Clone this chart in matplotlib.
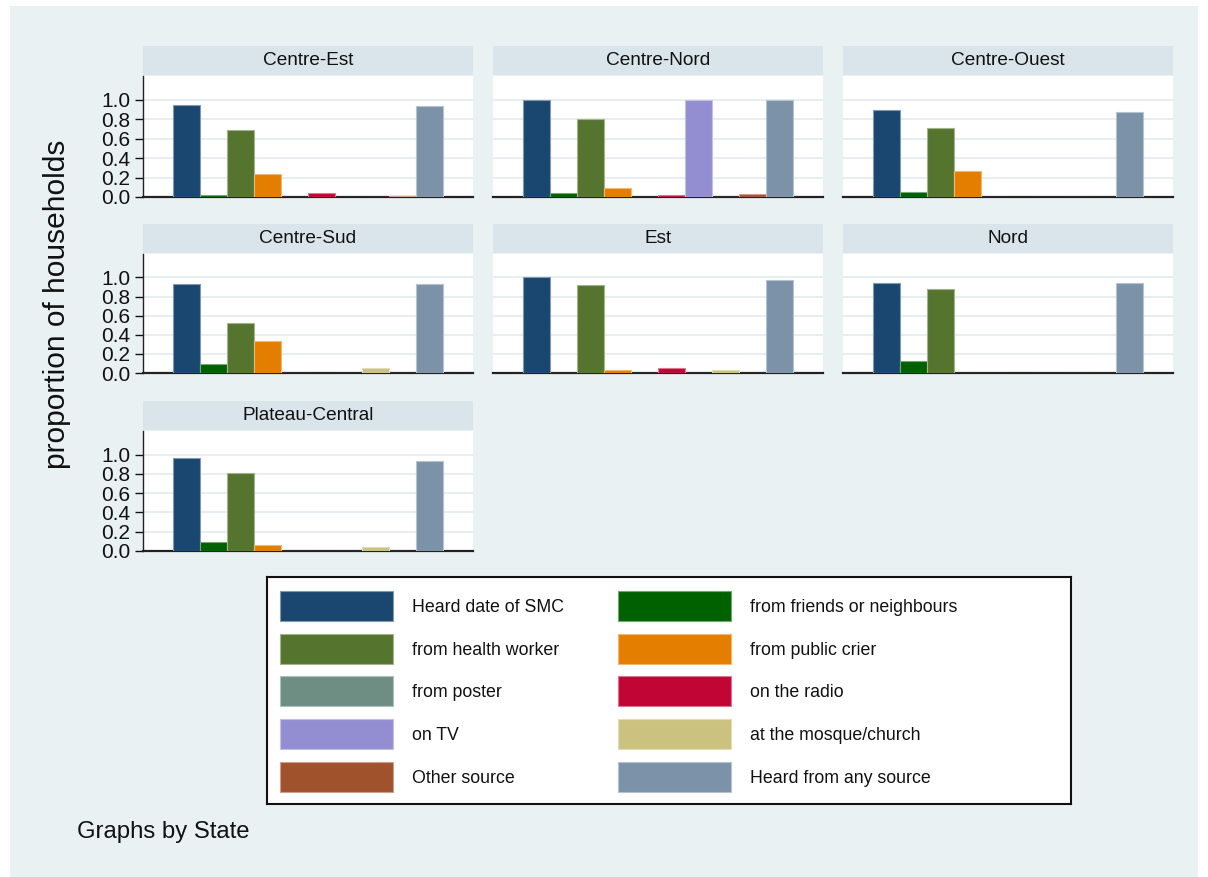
import numpy as np
import matplotlib
matplotlib.use("Agg")
import matplotlib.pyplot as plt
from matplotlib.patches import Rectangle
from matplotlib.colors import to_rgb

plt.rcParams['font.family'] = ['Liberation Sans', 'DejaVu Sans']

# series labels and colours (Stata s2color order)
sources = ['Heard date of SMC', 'from friends or neighbours', 'from health worker',
           'from public crier', 'from poster', 'on the radio', 'on TV',
           'at the mosque/church', 'Other source', 'Heard from any source']
colors = ['#1A476F', '#006100', '#55752F', '#E37E00', '#6E8E84',
          '#C10534', '#938DD2', '#CAC27E', '#A0522D', '#7B92A8']

states = ['Centre-Est', 'Centre-Nord', 'Centre-Ouest', 'Centre-Sud',
          'Est', 'Nord', 'Plateau-Central']

# proportion of households per source, one list per state
centre_est = [0.948, 0.020, 0.694, 0.236, 0.0, 0.042, 0.0, 0.0, 0.014, 0.934]
centre_nord = [1.0, 0.042, 0.800, 0.097, 0.0, 0.017, 1.0, 0.0, 0.031, 1.0]
centre_ouest = [0.892, 0.052, 0.705, 0.264, 0.0, 0.0, 0.0, 0.0, 0.0, 0.878]
centre_sud = [0.927, 0.098, 0.521, 0.336, 0.0, 0.0, 0.0, 0.056, 0.0, 0.927]
est = [1.0, 0.0, 0.916, 0.028, 0.0, 0.049, 0.0, 0.028, 0.0, 0.969]
nord = [0.944, 0.122, 0.878, 0.0, 0.0, 0.0, 0.0, 0.0, 0.0, 0.944]
plateau_central = [0.962, 0.098, 0.808, 0.059, 0.0, 0.0, 0.0, 0.045, 0.0, 0.930]

values = [centre_est, centre_nord, centre_ouest, centre_sud, est, nord, plateau_central]
yticks = [0.0, 0.2, 0.4, 0.6, 0.8, 1.0]

W, H = 1208, 877
BG = '#EAF1F3'
HEAD = '#D9E5EA'
GRID = '#E4EDF0'


def box(x0, y0, x1, y1):
    return [x0 / W, 1 - y1 / H, (x1 - x0) / W, (y1 - y0) / H]


def lighter(c, f=0.45):
    r, g, b = to_rgb(c)
    return (r + (1 - r) * f, g + (1 - g) * f, b + (1 - b) * f)


fig = plt.figure(figsize=(W / 100, H / 100), dpi=100, facecolor='white')
fig.patches.append(Rectangle((10 / W, 0), 1188 / W, 1 - 6 / H, transform=fig.transFigure,
                             facecolor=BG, edgecolor='none', zorder=-10))

cols_x = [(143, 473), (493, 823), (843, 1173)]
rows_y = [(46, 75, 76, 197), (224, 253, 254, 373), (401, 430, 431, 551)]

x = np.arange(len(sources))
for k, state in enumerate(states):
    r, c = divmod(k, 3)
    x0, x1 = cols_x[c]
    h0, h1, p0, p1 = rows_y[r]

    # header strip
    hax = fig.add_axes(box(x0, h0, x1, h1))
    hax.set_facecolor(HEAD)
    hax.set_xticks([]); hax.set_yticks([])
    for s in hax.spines.values():
        s.set_visible(False)
    hax.text(0.5, 0.5, state, ha='center', va='center', fontsize=13.7, color='#111111',
             transform=hax.transAxes)

    ax = fig.add_axes(box(x0, p0, x1, p1))
    ax.set_facecolor('white')
    ax.bar(x, values[k], width=1.0, color=colors,
           edgecolor=[lighter(cc) for cc in colors], linewidth=0.8, zorder=3)
    ax.set_xlim(-1.61, 10.61)
    ax.set_ylim(0, 1.245)
    ax.set_yticks(yticks)
    for yv in yticks[1:]:
        ax.axhline(yv, color=GRID, lw=1.3, zorder=1)
    ax.set_xticks([])
    ax.spines['top'].set_visible(False)
    ax.spines['right'].set_visible(False)
    ax.spines['bottom'].set_linewidth(1.6)
    ax.spines['bottom'].set_color('#222222')
    if c == 0:
        ax.spines['left'].set_linewidth(1.0)
        ax.spines['left'].set_color('#222222')
        ax.set_yticklabels(['%.1f' % v for v in yticks], fontsize=15)
        ax.tick_params(axis='y', length=6, width=1, pad=3, colors='#111111')
    else:
        ax.spines['left'].set_visible(False)
        ax.tick_params(axis='y', length=0, labelleft=False)

fig.text(57 / W, 1 - 304 / H, 'proportion of households', rotation=90,
         ha='center', va='center', fontsize=21.5, color='#111111')

# legend box
lax = fig.add_axes(box(267, 577, 1071, 804))
lax.set_facecolor('white')
lax.set_xlim(0, 804)
lax.set_ylim(227, 0)
lax.set_xticks([]); lax.set_yticks([])
for s in lax.spines.values():
    s.set_linewidth(1.5)
    s.set_color('#111111')
row_c = [29, 72, 114, 157, 200]
for i, (lab, col) in enumerate(zip(sources, colors)):
    rr, cc = divmod(i, 2)
    sx = 13 if cc == 0 else 351
    lax.add_patch(Rectangle((sx, row_c[rr] - 15), 113, 30, facecolor=col,
                            edgecolor=lighter(col), linewidth=0.8))
    lax.text(sx + 132, row_c[rr] + 1.5, lab, ha='left', va='center', fontsize=12.8,
             color='#111111')

fig.text(77 / W, 1 - 832 / H, 'Graphs by State', ha='left', va='center',
         fontsize=17.2, color='#111111')

fig.savefig('out.png', dpi=100, facecolor=fig.get_facecolor())
